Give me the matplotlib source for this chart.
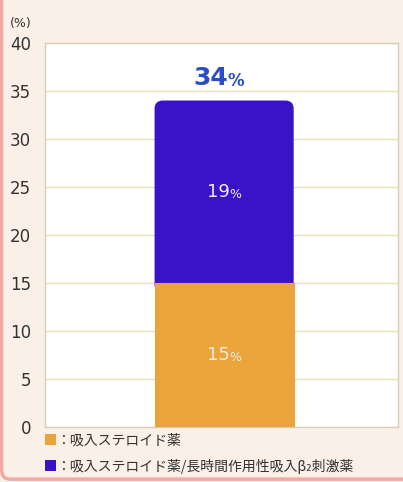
import matplotlib
matplotlib.use('Agg')
import matplotlib.pyplot as plt
from matplotlib.patches import FancyBboxPatch, Rectangle

plt.rcParams['font.family'] = ['Noto Sans CJK JP', 'DejaVu Sans']

# data
ics = [15]            # 吸入ステロイド薬
ics_laba = [19]       # 吸入ステロイド薬/長時間作用性吸入β2刺激薬
yticks = [0, 5, 10, 15, 20, 25, 30, 35, 40]
legend_labels = ['：吸入ステロイド薬', '：吸入ステロイド薬/長時間作用性吸入β₂刺激薬']

c_ics = '#e9a43c'
c_laba = '#3a12c8'
bg = '#faf0e8'

fig = plt.figure(figsize=(4.03, 4.82), dpi=100, facecolor=bg)
# pink frame
fig.patches.append(FancyBboxPatch((0.004, 0.006), 1.2, 1.2, boxstyle='round,pad=0,rounding_size=0.02',
                                  transform=fig.transFigure, facecolor='none',
                                  edgecolor='#f2a9a4', linewidth=2.5, zorder=0))

ax = fig.add_axes([0.112, 0.114, 0.876, 0.797])
ax.set_facecolor('white')
ax.set_xlim(0, 1)
ax.set_ylim(0, 40)

x = 0.507
w = 0.394
total = ics[0] + ics_laba[0]

# purple bar with rounded top (bottom hidden under orange)
rb = ax.bar([x], [total], width=w, color=c_laba, zorder=2)
r = rb[0]
r.set_visible(False)
fb = FancyBboxPatch((r.get_x(), ics[0] - 1), r.get_width(), total - ics[0] + 1,
                    boxstyle='round,pad=0,rounding_size=0.024', mutation_aspect=35,
                    facecolor=c_laba, edgecolor='none', zorder=2)
ax.add_patch(fb)
ax.bar([x], ics, width=w, color=c_ics, edgecolor=c_ics, linewidth=0.8, zorder=3)

# labels
ax.text(x + 0.01, total + 1.1, f'{total}', ha='right', va='bottom', fontsize=18,
        color='#2a4cc4', fontweight='bold', family='DejaVu Sans', zorder=4)
ax.text(x + 0.01, total + 1.1, '%', ha='left', va='bottom', fontsize=12,
        color='#2a4cc4', fontweight='bold', family='DejaVu Sans', zorder=4)
for val, ymid in [(ics_laba[0], ics[0] + ics_laba[0] / 2), (ics[0], ics[0] / 2)]:
    ax.text(x + 0.015, ymid, f'{val}', ha='right', va='center', fontsize=13,
            color='#f4ece4', family='DejaVu Sans', zorder=4)
    ax.text(x + 0.015, ymid - 0.25, '%', ha='left', va='center', fontsize=9,
            color='#f4ece4', family='DejaVu Sans', zorder=4)

ax.set_yticks(yticks)
ax.set_yticklabels([str(t) for t in yticks], fontsize=12, color='#333333', family='DejaVu Sans')
ax.tick_params(axis='y', length=0, pad=10)
ax.set_xticks([])
ax.grid(axis='y', color='#e8e2b8', linewidth=1, zorder=0)
ax.set_axisbelow(True)
for s in ax.spines.values():
    s.set_color('#d8ceb8')
    s.set_linewidth(1)

fig.text(0.025, 0.945, '(%)', fontsize=9, color='#333333', family='DejaVu Sans')

# legend
for i, (lab, col) in enumerate(zip(legend_labels, [c_ics, c_laba])):
    yy = 0.087 - i * 0.054
    fig.patches.append(Rectangle((0.112, yy - 0.011), 0.027, 0.023, transform=fig.transFigure,
                                 facecolor=col, edgecolor='none'))
    fig.text(0.14, yy, lab, fontsize=10, color='#333333', va='center')

fig.savefig('out.png', dpi=100, facecolor=bg)
